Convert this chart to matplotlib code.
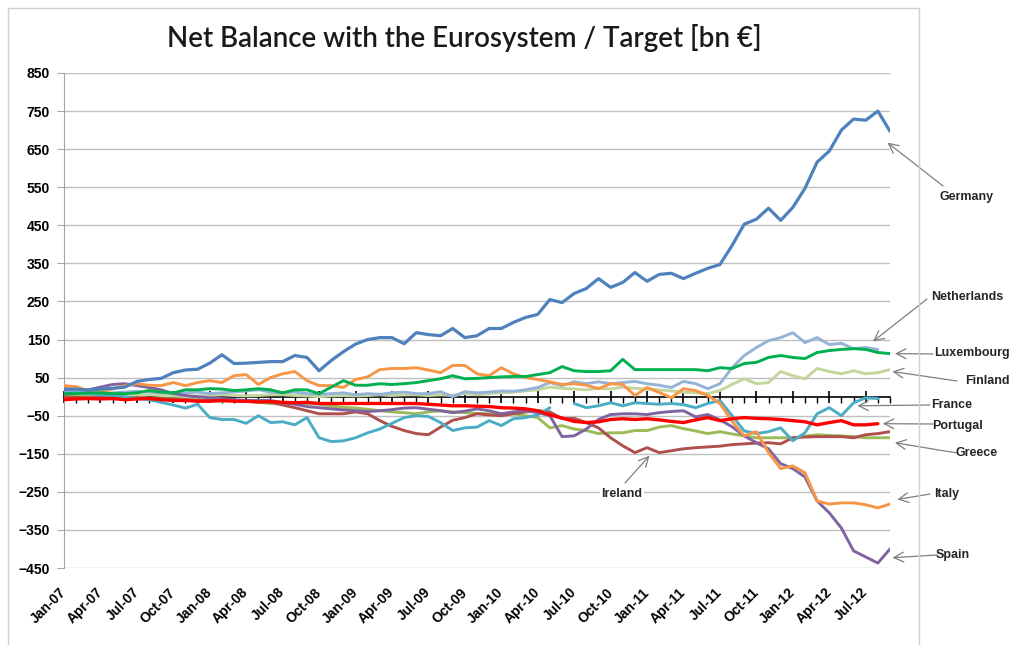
"""
Net Balance with the Eurosystem / Target [bn EUR], Jan-07 .. Sep-12
"""

import numpy as np
import matplotlib
matplotlib.use('Agg')
import matplotlib.pyplot as plt
from matplotlib.patches import Rectangle

nan = np.nan

# monthly values, Jan-07 .. Sep-12 (69 months), bn EUR
germany = [18, 20, 17, 20, 22, 25, 40, 45, 48, 63,
           70, 72, 88, 110, 87, 88, 90, 92, 92, 108,
           103, 68, 95, 118, 138, 150, 155, 155, 139, 168,
           163, 160, 179, 155, 160, 179, 179, 195, 208, 216,
           255, 247, 271, 284, 310, 287, 300, 326, 303, 321,
           324, 310, 324, 337, 347, 397, 453, 466, 495, 463,
           497, 547, 616, 645, 700, 729, 726, 750, 697]
netherlands = [15, 12, 10, 8, 10, 12, 14, 12, 10, 8, 10, 12,
               8, 10, 12, 15, 18, 12, 10, 12, 8, 6, 8, 10,
               5, 8, 6, 10, 12, 8, 8, 13, 0, 13, 10, 12, 15, 14, 18, 24, 37,
               29, 39, 34, 39, 34, 37, 40,
               34, 30, 24, 40, 34, 21, 34, 76, 108, 129, 147, 155, 168, 142,
               155, 137, 140, 126, 129, 124, nan]
luxembourg = [8, 8, 10, 10, 8, 8, 10, 16, 12, 10, 18, 18,
              21, 20, 16, 18, 21, 18, 10, 18, 18, 8, 25, 42,
              30, 30, 34, 32, 34, 37, 42, 47, 55, 47, 48, 50,
              52, 53, 53, 58, 63, 79, 68, 66, 66, 68, 98, 71,
              71, 71, 71, 71, 71, 68, 76, 74, 87, 90, 103, 108,
              103, 100, 116, 121, 124, 126, 124, 116, 113]
finland = [5, 3, 2, 2, 0, 2, 3, 5, 3, 2, 0, 2,
           3, 5, 3, 2, 3, 5, 5, 3, 2, 0, 2, 3,
           2, 3, 5, 3, 5, 5, 3, 5, 3, 8, 5, 8,
           10, 12, 15, 18, 25, 22, 20, 18, 22, 20, 25, 22,
           20, 18, 15, 12, 10, 8, 16, 32, 47, 34, 37, 66,
           55, 47, 74, 66, 60, 68, 60, 63, 71]
france = [8, 10, 8, 5, 3, 0, -5, -8, -15, -22, -30, -20,
          -55, -60, -60, -70, -50, -68, -66, -74, -55, -108, -118, -116,
          -108, -95, -85, -70, -55, -50, -52, -68, -89, -82, -80, -63,
          -76, -58, -55, -48, -29, nan, -18, -29, -24, -16, -24, -16,
          -18, -20, -18, -21, -29, -18, -10, -50, -90, -97, -92, -82,
          -116, -95, -45, -29, -50, -16, -3, -5, nan]
portugal = [-8, -6, -5, -6, -5, -8, -6, -5, -8, -10, -10, -12,
            -12, -10, -12, -12, -14, -13, -15, -16, -15, -18, -18, -18,
            -18, -18, -18, -18, -18, -18, -20, -22, -24, -24, -25, -26,
            -29, -30, -32, -37, -48, -56, -65, -68, -66, -60, -58, -60,
            -58, -61, -65, -68, -61, -55, -63, -58, -55, -57, -58, -60,
            -63, -66, -74, -68, -63, -74, -74, -71, nan]
greece = [0, 0, 2, 0, -2, -3, -2, -5, -5, -6, -8, -8,
          -10, -12, -10, -12, -15, -18, -15, -16, -18, -20, -25, -28,
          -30, -33, -37, -40, -42, -45, -40, -37, -40, -42, -44, -45,
          -45, -45, -50, -55, -82, -76, -85, -89, -97, -95, -95, -89,
          -89, -80, -76, -84, -90, -97, -92, -98, -103, -108, -108, -108,
          -108, -104, -100, -102, -103, -105, -108, -108, -108]
ireland = [0, -2, -3, -2, -3, -5, -3, -5, -5, -8, -8, -10,
           -10, -8, -10, -12, -12, -15, -22, -29, -37, -45, -45, -45,
           -40, -45, -63, -78, -89, -97, -100, -80, -62, -55, -45, -48,
           -50, -45, -40, -37, -40, -58, -57, -68, -82, -108, -129, -147,
           -134, -147, -142, -137, -134, -132, -130, -126, -124, -122, -121, -124,
           -108, -106, -105, -105, -105, -108, -100, -97, -92]
italy = [29, 26, 16, 13, 20, 29, 34, 30, 29, 37, 29, 37,
         42, 37, 55, 58, 32, 50, 60, 66, 42, 29, 29, 24,
         45, 52, 71, 74, 74, 76, 70, 63, 82, 82, 60, 55,
         76, 60, 50, 45, 39, 32, 34, 30, 21, 34, 32, 3,
         24, 11, -3, 21, 16, 3, -18, -65, -103, -92, -147, -189,
         -182, -200, -274, -282, -279, -279, -284, -292, -282]
spain = [21, 20, 18, 25, 32, 34, 29, 24, 18, 8, 3, 0,
         -3, -5, -8, -10, -10, -10, -16, -20, -26, -29, -32, -35,
         -37, -39, -37, -34, -30, -29, -33, -37, -42, -38, -32, -37,
         -45, -40, -37, -42, -50, -105, -103, -85, -60, -47, -45, -45,
         -47, -42, -39, -37, -53, -47, -61, -79, -103, -121, -137, -176,
         -189, -211, -274, -305, -345, -405, -421, -437, -400]

tick_labels = ['Jan-07', 'Apr-07', 'Jul-07', 'Oct-07', 'Jan-08', 'Apr-08',
               'Jul-08', 'Oct-08', 'Jan-09', 'Apr-09', 'Jul-09', 'Oct-09',
               'Jan-10', 'Apr-10', 'Jul-10', 'Oct-10', 'Jan-11', 'Apr-11',
               'Jul-11', 'Oct-11', 'Jan-12', 'Apr-12', 'Jul-12']

# name, values, colour, line width  (drawing order)
series = [
    ('Finland', finland, '#C3D69B', 2.1),
    ('Netherlands', netherlands, '#95B3D7', 2.1),
    ('Greece', greece, '#9BBB59', 2.1),
    ('Ireland', ireland, '#B0504D', 2.1),
    ('France', france, '#4BACC6', 2.1),
    ('Spain', spain, '#8064A2', 2.1),
    ('Italy', italy, '#F79646', 2.1),
    ('Luxembourg', luxembourg, '#00B050', 2.1),
    ('Portugal', portugal, '#FF0000', 2.4),
    ('Germany', germany, '#4F81BD', 2.3),
]

# label: arrow head (data), arrow tail (image px), text centre (image px)
callouts = {
    'Germany': ((67.8, 667), (943, 186), (967, 197)),
    'Netherlands': ((66.6, 145), (927, 299), (967, 297)),
    'Luxembourg': ((68.4, 113), (933, 354), (972, 353)),
    'Finland': ((68.2, 66), (957, 381), (987, 381)),
    'France': ((65.3, -24), (930, 405), (952, 405)),
    'Portugal': ((67.4, -71), (933, 424), (958, 426)),
    'Greece': ((68.4, -121), (957, 453), (977, 453)),
    'Italy': ((68.6, -270), (930, 494), (947, 494)),
    'Spain': ((68.2, -423), (937, 555), (953, 555)),
    'Ireland': ((48.2, -155), (625, 483), (622, 494)),
}

W, H = 1012, 645
plt.rcParams['font.family'] = ['Liberation Sans', 'DejaVu Sans']

fig = plt.figure(figsize=(W / 100, H / 100), dpi=100)
fig.patches.append(Rectangle((8 / W, -0.05), (919 - 8) / W, 1.05 - 8 / H,
                             transform=fig.transFigure, fill=False,
                             edgecolor='#D0D0D0', lw=1))

ax = fig.add_axes([64 / W, 1 - 568 / H, 826 / W, 495 / H])
x = np.arange(len(germany))
for name, vals, color, lw in series:
    ax.plot(x, np.array(vals, dtype=float), color=color, lw=lw,
            solid_joinstyle='round', solid_capstyle='round', zorder=3)

ymin, ymax = -450, 850
ax.set_xlim(0, len(germany) - 1)
ax.set_ylim(ymin, ymax)
ax.set_yticks(np.arange(ymin, ymax + 1, 100))
ax.yaxis.grid(True, color='#BFBFBF', lw=1)
ax.set_axisbelow(True)
for s in ['top', 'right', 'bottom']:
    ax.spines[s].set_visible(False)
ax.spines['left'].set_color('#A6A6A6')
ax.tick_params(axis='y', length=5, color='#A6A6A6', pad=5, labelsize=10)
ax.set_xticks(np.arange(0, 3 * len(tick_labels), 3))
ax.set_xticklabels(tick_labels, rotation=45, ha='right', va='center',
                   rotation_mode='anchor')
ax.tick_params(axis='x', length=0, pad=16, labelsize=10)
for lab in ax.get_xticklabels() + ax.get_yticklabels():
    lab.set_fontweight('bold')

# category axis crossing at zero
sec = ax.secondary_xaxis((0 - ymin) / (ymax - ymin))
sec.set_xticks(np.arange(0, len(germany), 3))
sec.set_xticks(np.arange(0, len(germany)), minor=True)
sec.tick_params(which='major', direction='inout', length=9, width=1.2,
                color='black', labelbottom=False, labeltop=False)
sec.tick_params(which='minor', direction='out', length=4, width=1,
                color='black')
for s in sec.spines.values():
    s.set_color('black')
    s.set_linewidth(1.2)

fig.text(464 / W, 1 - 38 / H, 'Net Balance with the Eurosystem / Target [bn €]',
         ha='center', va='center', fontsize=20, family=['Lato', 'DejaVu Sans'],
         fontweight='semibold', color='#1A1A1A')

for name, (head, tail, centre) in callouts.items():
    ax.annotate('', xy=head, xycoords='data',
                xytext=(tail[0], H - tail[1]), textcoords='figure pixels',
                arrowprops=dict(arrowstyle='->,head_length=0.7,head_width=0.35',
                                color='#7F7F7F', lw=0.9, shrinkA=0, shrinkB=0),
                annotation_clip=False, zorder=5)
    bbox = None
    if name == 'Ireland':
        bbox = dict(facecolor='white', edgecolor='none', pad=1)
    fig.text(centre[0] / W, 1 - centre[1] / H, name, ha='center', va='center',
             fontsize=9, fontweight='bold', color='#262626', bbox=bbox, zorder=6)

fig.savefig('out.png', dpi=100)
